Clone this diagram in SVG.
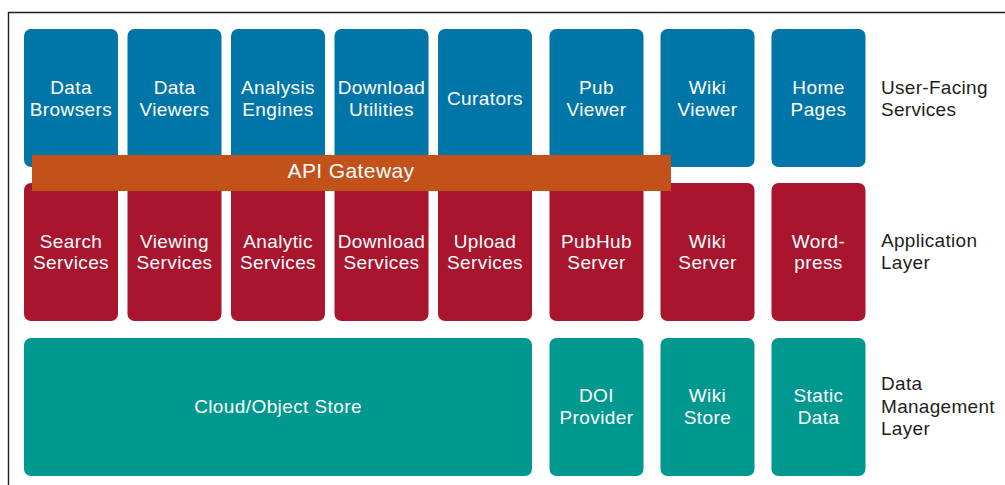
<svg xmlns="http://www.w3.org/2000/svg" width="1005" height="485" viewBox="0 0 1005 485">
<style>
.t{font-family:"Liberation Sans",Arial,sans-serif;font-size:19px;fill:#ffffff;text-anchor:middle;letter-spacing:0.4px}
.l{font-family:"Liberation Sans",Arial,sans-serif;font-size:19px;fill:#231f20;letter-spacing:0.3px}
.b{fill:#0076a8}
.r{fill:#a8152d}
.g{fill:#00988f}
</style>
<rect width="1005" height="485" fill="#ffffff"/>
<path d="M8.5 485 V12.5 H1005" fill="none" stroke="#222" stroke-width="1.4"/>
<g id="user-facing">
<g id="data-browsers"><rect class="b" x="24" y="29" width="94" height="138" rx="7"/><text class="t" x="71" y="93.5">Data</text><text class="t" x="71" y="115.5">Browsers</text></g>
<g id="data-viewers"><rect class="b" x="127.5" y="29" width="94" height="138" rx="7"/><text class="t" x="174.5" y="93.5">Data</text><text class="t" x="174.5" y="115.5">Viewers</text></g>
<g id="analysis-engines"><rect class="b" x="231" y="29" width="94" height="138" rx="7"/><text class="t" x="278" y="93.5">Analysis</text><text class="t" x="278" y="115.5">Engines</text></g>
<g id="download-utilities"><rect class="b" x="334.5" y="29" width="94" height="138" rx="7"/><text class="t" x="381.5" y="93.5">Download</text><text class="t" x="381.5" y="115.5">Utilities</text></g>
<g id="curators"><rect class="b" x="438" y="29" width="94" height="138" rx="7"/><text class="t" x="485" y="104.5">Curators</text></g>
<g id="pub-viewer"><rect class="b" x="549.5" y="29" width="94" height="138" rx="7"/><text class="t" x="596.5" y="93.5">Pub</text><text class="t" x="596.5" y="115.5">Viewer</text></g>
<g id="wiki-viewer"><rect class="b" x="660.5" y="29" width="94" height="138" rx="7"/><text class="t" x="707.5" y="93.5">Wiki</text><text class="t" x="707.5" y="115.5">Viewer</text></g>
<g id="home-pages"><rect class="b" x="771.5" y="29" width="94" height="138" rx="7"/><text class="t" x="818.5" y="93.5">Home</text><text class="t" x="818.5" y="115.5">Pages</text></g>
</g>
<g id="application">
<g id="search-services"><rect class="r" x="24" y="183" width="94" height="138" rx="7"/><text class="t" x="71" y="247.5">Search</text><text class="t" x="71" y="269">Services</text></g>
<g id="viewing-services"><rect class="r" x="127.5" y="183" width="94" height="138" rx="7"/><text class="t" x="174.5" y="247.5">Viewing</text><text class="t" x="174.5" y="269">Services</text></g>
<g id="analytic-services"><rect class="r" x="231" y="183" width="94" height="138" rx="7"/><text class="t" x="278" y="247.5">Analytic</text><text class="t" x="278" y="269">Services</text></g>
<g id="download-services"><rect class="r" x="334.5" y="183" width="94" height="138" rx="7"/><text class="t" x="381.5" y="247.5">Download</text><text class="t" x="381.5" y="269">Services</text></g>
<g id="upload-services"><rect class="r" x="438" y="183" width="94" height="138" rx="7"/><text class="t" x="485" y="247.5">Upload</text><text class="t" x="485" y="269">Services</text></g>
<g id="pubhub-server"><rect class="r" x="549.5" y="183" width="94" height="138" rx="7"/><text class="t" x="596.5" y="247.5">PubHub</text><text class="t" x="596.5" y="269">Server</text></g>
<g id="wiki-server"><rect class="r" x="660.5" y="183" width="94" height="138" rx="7"/><text class="t" x="707.5" y="247.5">Wiki</text><text class="t" x="707.5" y="269">Server</text></g>
<g id="wordpress"><rect class="r" x="771.5" y="183" width="94" height="138" rx="7"/><text class="t" x="818.5" y="247.5">Word-</text><text class="t" x="818.5" y="269">press</text></g>
</g>
<g id="api-gateway"><rect x="32" y="155" width="639" height="36" fill="#c2521a"/><text class="t" x="351" y="178" style="font-size:21px">API Gateway</text></g>
<g id="data-management">
<g id="cloud-object-store"><rect class="g" x="24" y="338" width="508" height="138" rx="7"/><text class="t" x="278" y="413">Cloud/Object Store</text></g>
<g id="doi-provider"><rect class="g" x="549.5" y="338" width="94" height="138" rx="7"/><text class="t" x="596.5" y="401.5">DOI</text><text class="t" x="596.5" y="424">Provider</text></g>
<g id="wiki-store"><rect class="g" x="660.5" y="338" width="94" height="138" rx="7"/><text class="t" x="707.5" y="401.5">Wiki</text><text class="t" x="707.5" y="424">Store</text></g>
<g id="static-data"><rect class="g" x="771.5" y="338" width="94" height="138" rx="7"/><text class="t" x="818.5" y="401.5">Static</text><text class="t" x="818.5" y="424">Data</text></g>
</g>
<g id="layer-labels">
<text class="l" x="881" y="94">User-Facing</text><text class="l" x="881" y="116">Services</text>
<text class="l" x="881" y="247">Application</text><text class="l" x="881" y="268.5">Layer</text>
<text class="l" x="881" y="390">Data</text><text class="l" x="881" y="413">Management</text><text class="l" x="881" y="435">Layer</text>
</g>
<g id="connectors"/>
</svg>
